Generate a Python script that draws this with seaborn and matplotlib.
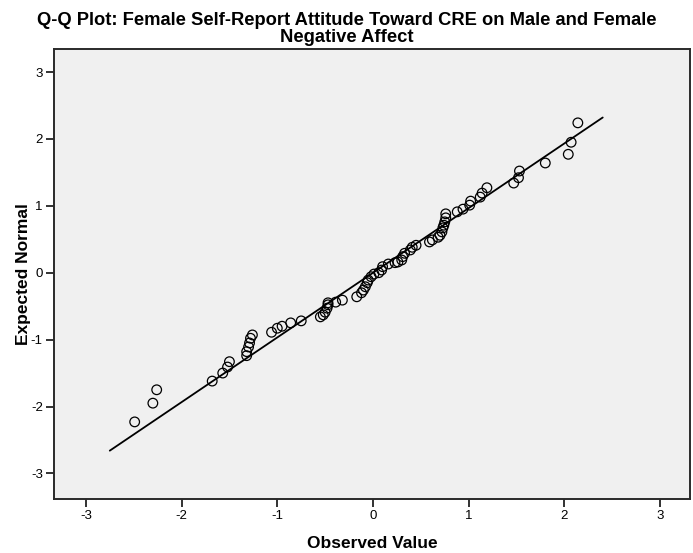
import matplotlib
matplotlib.use("Agg")
import matplotlib.pyplot as plt
import seaborn as sns
import pandas as pd

# Observed (standardized) values and their expected normal scores
observed = [-2.49, -2.30, -2.26, -1.68, -1.57, -1.52, -1.50, -1.32, -1.32, -1.30,
            -1.29, -1.28, -1.26, -1.06, -1.00, -0.95, -0.86, -0.75, -0.55, -0.52,
            -0.50, -0.48, -0.47, -0.47, -0.39, -0.32, -0.17, -0.12, -0.10, -0.08,
            -0.06, -0.05, -0.02, 0.01, 0.06, 0.09, 0.10, 0.16, 0.23, 0.26,
            0.30, 0.31, 0.33, 0.39, 0.41, 0.45, 0.59, 0.62, 0.68, 0.70,
            0.72, 0.73, 0.74, 0.75, 0.76, 0.76, 0.88, 0.94, 1.01, 1.02,
            1.12, 1.14, 1.19, 1.47, 1.52, 1.53, 1.80, 2.04, 2.07, 2.14]
expected = [-2.23, -1.95, -1.75, -1.62, -1.50, -1.41, -1.33, -1.24, -1.18, -1.11,
            -1.05, -0.98, -0.93, -0.89, -0.83, -0.80, -0.75, -0.72, -0.66, -0.63,
            -0.59, -0.53, -0.48, -0.45, -0.44, -0.41, -0.36, -0.30, -0.26, -0.21,
            -0.15, -0.11, -0.06, -0.02, 0.00, 0.04, 0.09, 0.13, 0.15, 0.16,
            0.19, 0.24, 0.29, 0.34, 0.38, 0.41, 0.46, 0.49, 0.53, 0.56,
            0.61, 0.67, 0.71, 0.76, 0.82, 0.88, 0.91, 0.95, 1.01, 1.07,
            1.13, 1.19, 1.27, 1.34, 1.42, 1.52, 1.64, 1.77, 1.95, 2.24]

# Reference line endpoints
line_x = [-2.75, 2.40]
line_y = [-2.66, 2.32]

ticks = [-3, -2, -1, 0, 1, 2, 3]

sns.set_theme(style="ticks")
plt.rcParams['font.family'] = ['Liberation Sans', 'DejaVu Sans']
plt.rcParams['text.color'] = 'black'
plt.rcParams['axes.labelcolor'] = 'black'

fig = plt.figure(figsize=(6.93, 5.53), dpi=100)
ax = fig.add_axes([0.0779, 0.0976, 0.9178, 0.8138])
ax.set_facecolor("#F0F0F0")

pts = pd.DataFrame({"Observed Value": observed, "Expected Normal": expected})
ref = pd.DataFrame({"x": line_x, "y": line_y})

sns.lineplot(data=ref, x="x", y="y", ax=ax, color="black", linewidth=1.3, zorder=2)
sns.scatterplot(data=pts, x="Observed Value", y="Expected Normal", ax=ax,
                s=48, facecolor="none", edgecolor="black", linewidth=0.9, zorder=3)

ax.set_xlim(-3.333, 3.312)
ax.set_ylim(-3.383, 3.344)
ax.set_xticks(ticks)
ax.set_yticks(ticks)
ax.set_xticklabels([str(t) for t in ticks], fontsize=9.5)
ax.set_yticklabels([str(t) for t in ticks], fontsize=9.5)
ax.tick_params(axis="both", which="major", direction="out", length=6, width=1.3,
               color="#222222", labelcolor="black", pad=2,
               bottom=True, left=True, top=False, right=False)

for sp in ax.spines.values():
    sp.set_visible(True)
    sp.set_color("#2a2a2a")
    sp.set_linewidth(1.4)

ax.set_xlabel("Observed Value", fontsize=12.5, fontweight="bold", labelpad=10,
              color="black")
ax.set_ylabel("Expected Normal", fontsize=12.5, fontweight="bold", labelpad=0,
              color="black")

fig.suptitle("Q-Q Plot: Female Self-Report Attitude Toward CRE on Male and Female\nNegative Affect",
             fontsize=13.2, fontweight="bold", y=0.979, linespacing=1.0, color="black")

fig.savefig("out.png", dpi=100, facecolor="white")
